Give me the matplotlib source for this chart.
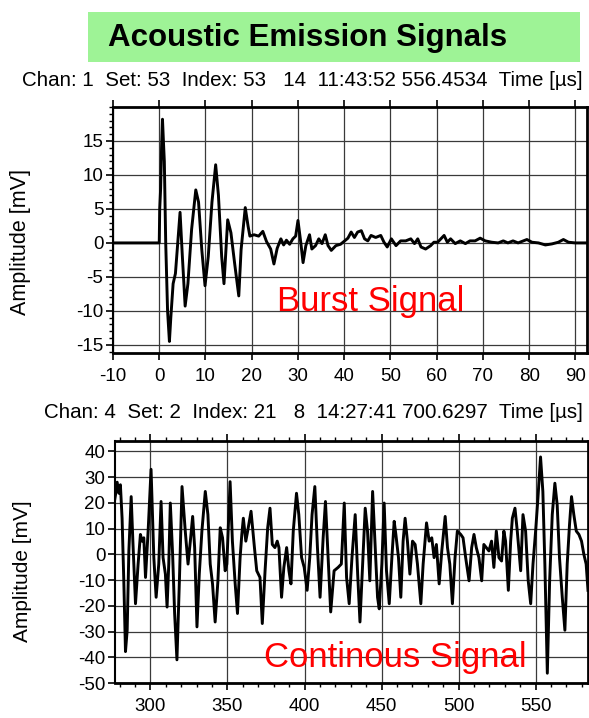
import matplotlib
matplotlib.use("Agg")
import matplotlib.pyplot as plt
from matplotlib.patches import Rectangle
from matplotlib.ticker import MultipleLocator, FixedLocator

plt.rcParams['font.family'] = ['Liberation Sans', 'DejaVu Sans']
plt.rcParams['axes.unicode_minus'] = False

# ---- data -------------------------------------------------------------
title = "Acoustic Emission Signals"
header_burst = "Chan: 1  Set: 53  Index: 53   14  11:43:52 556.4534  Time [µs]"
header_cont = "Chan: 4  Set: 2  Index: 21   8  14:27:41 700.6297  Time [µs]"
ylabel = "Amplitude [mV]"
label_burst = "Burst Signal"
label_cont = "Continous Signal"

burst_yticks = [-15, -10, -5, 0, 5, 10, 15]

burst_t = [-10, 0, 0.1, 0.3, 0.5, 0.7, 0.9, 1.1, 1.4, 1.8, 2.2, 2.5, 3.0, 3.5, 4.0,
           4.5, 5.0, 5.6, 6.2, 7.0, 7.9, 8.5, 9.2, 9.9, 10.6, 11.4, 12.2, 12.8, 13.5,
           14.0, 14.8, 15.5, 16.3, 17.2, 17.7, 18.6, 19.2, 19.6, 20.5, 21.5, 22.4,
           23.2, 24.1, 24.8, 25.5, 26.3, 26.9, 27.5, 28.2, 28.9, 29.5, 30.0, 30.6,
           31.1, 31.7, 32.5, 33.0, 33.8, 34.5, 35.2, 35.9, 36.5, 37.2, 38.2, 39.2,
           40.1, 40.8, 41.5, 42.2, 42.9, 43.7, 44.4, 45.1, 45.8, 46.8, 47.9, 48.6,
           49.3, 50.2, 51.2, 52.2, 53.3, 54.4, 55.2, 55.9, 56.6, 57.6, 58.7, 59.4,
           60.2, 60.9, 61.6, 62.3, 63.0, 64.0, 65.1, 66.2, 67.2, 68.3, 69.4, 70.5,
           71.9, 73.3, 74.4, 75.4, 76.5, 77.6, 79.5, 80.6, 82.0, 83.5, 84.9, 86.3,
           87.4, 88.5, 90.0, 92.5]
burst_a = [0, 0, 5, 8, 14, 18.2, 15, 12, 0, -10, -14.5, -11, -6, -4.5, 0,
           4.5, -2, -9.3, -6, 2, 7.8, 6, -1, -6.3, -2, 6, 11.5, 7, -2,
           -6, 3.4, 1.5, -3, -7.8, -1, 5.2, 2.5, 1.0, 1.2, 1.0, 1.7,
           0.2, -0.9, -3.1, -0.8, 0.6, -0.3, 0.4, -0.2, 0.6, 1.0, 3.3, 0.1,
           -2.9, -0.4, 1.2, -0.9, -0.4, 0.6, -0.1, 1.2, -0.4, -1.1, -0.4, -0.2,
           0.3, 0.7, 1.6, 0.8, 1.6, 1.8, 0.6, 0.3, 1.1, 0.8, 1.1, 0.1,
           -0.6, 0.6, -0.4, 0.3, 0.3, 0.6, -0.1, 0.6, -0.6, -0.9, -0.4, 0.1,
           0.1, 0.6, 1.1, 0.1, 0.6, -0.1, 0.3, -0.1, 0.3, 0.3, 0.7, 0.3,
           0.1, 0.0, 0.3, 0.0, 0.3, 0.0, 0.5, 0.1, 0.0, -0.3, -0.15, 0.1,
           0.5, 0.1, 0.0, 0.0]

cont_t = [276.5, 277.3, 278.4, 279.5, 280.5, 281.6, 282.7, 283.8, 284.9, 286.0,
          287.5, 288.6, 290.3, 292.0, 293.5, 294.6, 295.7, 296.8, 298.5, 300.4,
          302.2, 303.7, 305.4, 306.9, 308.2, 309.7, 310.8, 311.9, 312.9, 314.4,
          315.7, 317.2, 318.8, 320.5, 322.6, 324.4, 325.9, 327.4, 328.7, 330.2,
          331.7, 333.4, 335.6, 337.3, 338.8, 340.3, 342.0, 343.8, 345.3, 346.8,
          348.5, 349.6, 351.7, 353.2, 355.0, 356.5, 358.2, 359.3, 360.3, 361.9,
          363.1, 365.3, 367.5, 369.0, 371.1, 372.6, 374.4, 376.1, 377.6, 379.1,
          380.8, 382.3, 383.4, 385.1, 386.6, 388.4, 389.9, 391.2, 392.7, 394.8,
          396.3, 398.1, 399.8, 401.7, 403.4, 404.9, 406.7, 408.4, 410.1, 412.1,
          413.6, 415.3, 417.0, 419.2, 421.8, 423.9, 425.8, 427.3, 429.0, 430.8,
          432.9, 434.5, 436.0, 437.7, 439.4, 440.9, 442.4, 444.2, 445.9, 447.4,
          448.5, 450.2, 451.7, 453.2, 455.0, 456.7, 458.2, 459.3, 461.0, 462.5,
          464.0, 465.3, 466.8, 468.4, 470.1, 471.8, 473.3, 475.5, 477.0, 479.2,
          480.9, 482.6, 484.1, 485.6, 487.4, 489.1, 491.3, 492.8, 494.3, 496.0,
          497.7, 499.2, 501.4, 502.9, 504.6, 506.8, 508.5, 510.0, 511.5, 513.2,
          515.0, 516.4, 518.0, 519.7, 521.4, 522.9, 524.5, 526.2, 527.9, 529.4,
          530.5, 532.3, 533.8, 534.9, 536.6, 538.1, 540.3, 541.8, 543.5, 545.2,
          546.8, 548.3, 550.0, 551.5, 553.2, 554.7, 556.0, 557.6, 559.1, 560.8,
          562.5, 564.0, 565.5, 567.3, 569.0, 570.5, 572.0, 573.3, 574.8, 576.4,
          578.1, 579.8, 581.3, 582.8, 584.0]
cont_a = [20, 23, 28, 23.7, 27, 14, -10, -37.8, -29.5, 1.3,
          22.4, 5.1, -19.2, -3.8, 7.7, 5.1, 6.4, -9, 9, 33,
          -1.3, -16.7, -3.8, 20.5, -1.3, -7.7, -20.5, -3.8, 19.9, 0,
          -23, -41, -10.3, 26.3, 9, -3.8, 5.1, 14.7, 2.6, -28.2,
          -7.7, 9, 24.4, 15.4, -3.8, -11.5, -26.3, -10.3, 10.3, 6.4,
          -6.4, -3.8, 28.2, 5.1, -11.5, -23, -1.3, 7.7, 14, 5.1,
          9, 16.7, 2.6, -6.4, -9, -26.9, -6.4, 10.3, 17.9, 3.8,
          2.6, 5.1, 2.6, -16.7, -5.1, 2.6, -6.4, -11.5, 9, 23.7,
          15.4, -1.3, -5.1, -14, -1.3, 15.4, 26.3, 2.6, -16.7, 6.4,
          20.5, -1.3, -22.4, -6.4, -5.1, -3.8, 19.9, -9, -19.2, -1.3,
          15.4, -7.7, -26.3, -3.8, 17.9, 9, -10.3, 24.4, 2.6, -16.7,
          -21.2, -3.8, 19.9, -6.4, -19.2, -1.3, 12.8, 7.7, -1.3, -16.7,
          5.1, 14, 5.1, -7.7, 5.1, 3.8, -3.8, -19.2, -3.8, 12.2,
          5.1, 6.4, -1.3, 3.8, -11.5, 1.3, 14.7, 2.6, -3.8, -19.2,
          -1.3, 9, 7.7, 6.4, -1.3, -10.3, 2.6, 7.7, 2.6, -1.3,
          -10.3, 3.8, 2.6, 1.3, 5.1, -5.1, 9, -1.3, -2.6, 9,
          5.1, -14, 5.1, 14, 17.9, 9, -6.4, 15.4, 9, -10.3,
          -19.2, -3.8, 9, 21.8, 37.8, 24.4, -3.8, -46.2, -10.3, 15.4,
          27.6, 19.2, -1.3, -16.7, -29.5, -3.8, 11.5, 22.4, 15.4, 9,
          7.7, 5.1, 0, -3.8, -14]

# ---- figure -----------------------------------------------------------
W, H = 589, 718
fig = plt.figure(figsize=(W / 100, H / 100), dpi=100)
fig.patch.set_facecolor("white")


def px_box(left, top, right, bottom):
    return [left / W, 1 - bottom / H, (right - left) / W, (bottom - top) / H]


def fx(x):
    return x / W


def fy(y):
    return 1 - y / H


# title banner
fig.patches.append(Rectangle((fx(88), fy(62)), fx(580) - fx(88), fy(12) - fy(62),
                             transform=fig.transFigure, facecolor="#9ef396",
                             edgecolor="none", zorder=0))
fig.text(fx(108), fy(38), title, fontsize=22.5, fontweight="bold",
         ha="left", va="center")

tick_font = 13.5
line_w = 2.1


def style_axes(ax):
    ax.grid(True, which="major", color="#3a3a3a", linewidth=0.9)
    ax.set_axisbelow(True)
    for side in ("top", "bottom"):
        ax.spines[side].set_linestyle((0, (1, 1)))
        ax.spines[side].set_linewidth(2.0)
    ax.spines["left"].set_linewidth(1.5)
    ax.spines["right"].set_linewidth(2.0)
    ax.tick_params(axis="both", which="major", direction="out", length=5,
                   width=1.2, labelsize=tick_font)
    ax.tick_params(axis="x", which="major", pad=6)
    ax.tick_params(axis="y", which="major", pad=2)
    ax.tick_params(axis="both", which="minor", direction="out", length=3,
                   width=1.0)
    ax.tick_params(axis="x", top=True, which="both")


# ---- burst ------------------------------------------------------------
ax1 = fig.add_axes(px_box(113, 107, 587, 353))
ax1.plot(burst_t, burst_a, color="black", linewidth=line_w)
ax1.set_xlim(-10, 92.5)
ax1.set_ylim(-16.2, 20)
ax1.xaxis.set_major_locator(MultipleLocator(10))
ax1.yaxis.set_major_locator(FixedLocator(burst_yticks))
ax1.yaxis.set_minor_locator(MultipleLocator(1))
style_axes(ax1)
ax1.set_ylabel(ylabel, fontsize=15.5)
ax1.yaxis.set_label_coords(-0.172, 0.45)
fig.text(fx(583), fy(80), header_burst, fontsize=14.8, ha="right", va="center")
fig.text(fx(371), fy(301), label_burst, fontsize=25, color="#ff0000",
         ha="center", va="center")

# ---- continuous -------------------------------------------------------
ax2 = fig.add_axes(px_box(115, 441, 588, 683))
ax2.plot(cont_t, cont_a, color="black", linewidth=line_w)
ax2.set_xlim(277, 584)
ax2.set_ylim(-50, 44)
ax2.xaxis.set_major_locator(MultipleLocator(50))
ax2.xaxis.set_minor_locator(MultipleLocator(10))
ax2.yaxis.set_major_locator(MultipleLocator(10))
style_axes(ax2)
ax2.set_ylabel(ylabel, fontsize=15)
ax2.yaxis.set_label_coords(-0.175, 0.46)
fig.text(fx(583), fy(413), header_cont, fontsize=14.8, ha="right", va="center")
fig.text(fx(395), fy(657), label_cont, fontsize=25, color="#ff0000",
         ha="center", va="center")

fig.savefig("out.png", dpi=100, facecolor="white")
